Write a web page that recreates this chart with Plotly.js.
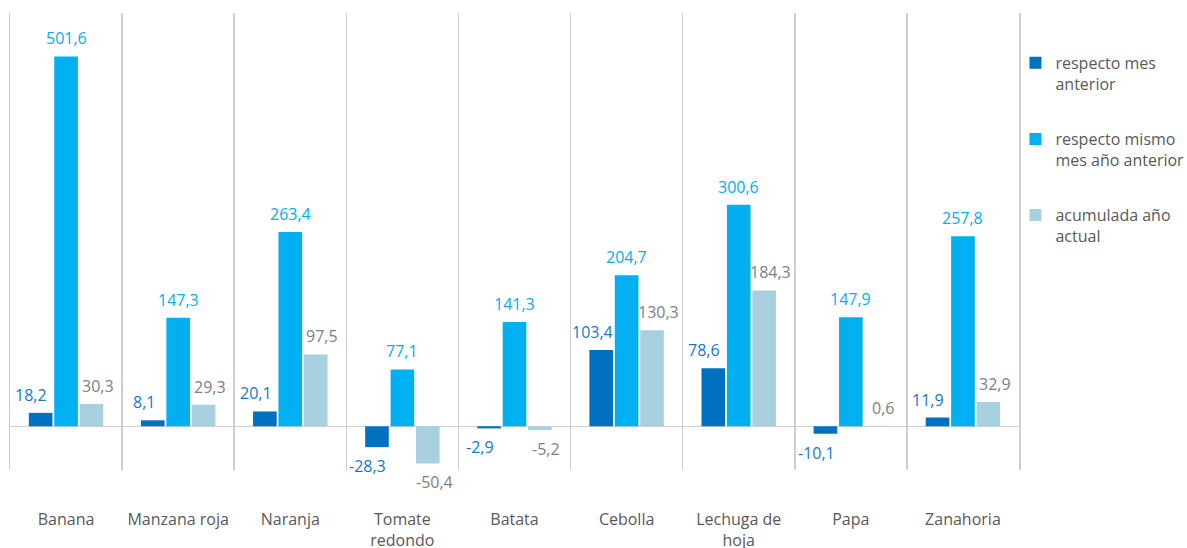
<!DOCTYPE html>
<html>
<head>
<meta charset="utf-8">
<script src="https://cdn.plot.ly/plotly-3.0.1.min.js"></script>
<style>html,body{margin:0;padding:0;background:#fff;}#chart{width:1187px;height:548px;}</style>
</head>
<body>
<div id="chart"></div>
<script>
const categories = ["Banana","Manzana roja","Naranja","Tomate<br>redondo","Batata","Cebolla","Lechuga de<br>hoja","Papa","Zanahoria"];
const seriesNames = ["respecto mes<br>anterior","respecto mismo<br>mes año anterior","acumulada año<br>actual"];
const mesAnterior = [18.2, 8.1, 20.1, -28.3, -2.9, 103.4, 78.6, -10.1, 11.9];
const mismoMesAnioAnterior = [501.6, 147.3, 263.4, 77.1, 141.3, 204.7, 300.6, 147.9, 257.8];
const acumuladaAnio = [30.3, 29.3, 97.5, -50.4, -5.2, 130.3, 184.3, 0.6, 32.9];

const series = [mesAnterior, mismoMesAnioAnterior, acumuladaAnio];
const barColors = ["#0070C0", "#00B0F0", "#A9D0DE"];
const labelColors = ["#1479CC", "#00B0F0", "#808080"];
const barOffsetPx = [-25.6, 0, 25.9];
const labelNudgePx = [-9, 0, 6];
const FONT = "Open Sans, Noto Sans, sans-serif";

function fmt(v){ return v.toFixed(1).replace('.', ','); }

const traces = series.map((vals, i) => ({
  type: 'bar',
  name: seriesNames[i],
  x: categories,
  y: vals,
  marker: {color: barColors[i]},
  legendgroup: 'g' + i,
  hoverinfo: 'none'
}));

const annotations = [];
series.forEach((vals, i) => {
  vals.forEach((v, j) => {
    annotations.push({
      x: categories[j], y: v, xref: 'x', yref: 'y',
      text: fmt(v), showarrow: false,
      xshift: barOffsetPx[i] + labelNudgePx[i],
      yanchor: v >= 0 ? 'bottom' : 'top',
      yshift: v >= 0 ? 5 : -6,
      font: {family: FONT, size: 16, color: labelColors[i]}
    });
  });
});

const layout = {
  width: 1187, height: 548,
  margin: {l: 9.5, r: 167.5, t: 13, b: 78, autoexpand: false},
  paper_bgcolor: '#ffffff', plot_bgcolor: '#ffffff',
  barmode: 'group', bargap: 0.32, bargroupgap: 0.07,
  font: {family: FONT, size: 16, color: '#595959'},
  showlegend: true,
  legend: {
    x: 0.9965, xanchor: 'left', y: 0.928, yanchor: 'top',
    traceorder: 'grouped', tracegroupgap: 31.5, valign: 'top',
    font: {family: FONT, size: 16, color: '#595959'},
    bgcolor: 'rgba(0,0,0,0)'
  },
  xaxis: {
    type: 'category', tickson: 'boundaries', showgrid: true,
    gridcolor: '#CFCFCF', gridwidth: 1.5, ticks: '', showline: false,
    zeroline: false, ticklabelstandoff: 38,
    tickfont: {family: FONT, size: 16, color: '#595959'},
    fixedrange: true
  },
  yaxis: {
    range: [-59.3, 560.5], showgrid: false, showticklabels: false, ticks: '',
    zeroline: true, zerolinecolor: '#CFCFCF', zerolinewidth: 1.5,
    showline: true, mirror: true, linecolor: '#CFCFCF', linewidth: 1.5,
    fixedrange: true
  },
  annotations: annotations
};

Plotly.newPlot('chart', traces, layout, {displayModeBar: false, staticPlot: true});
</script>
</body>
</html>
